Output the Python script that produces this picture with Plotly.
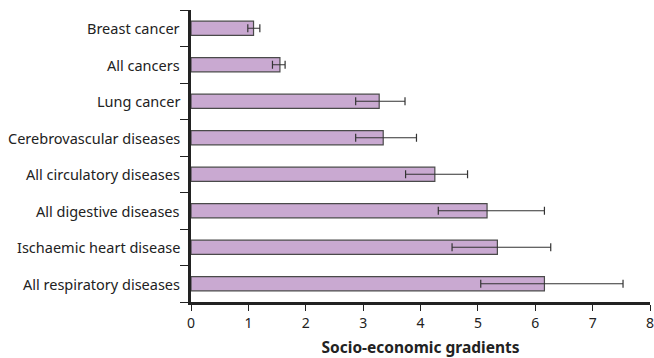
import plotly.graph_objects as go

categories = ["Breast cancer", "All cancers", "Lung cancer", "Cerebrovascular diseases",
              "All circulatory diseases", "All digestive diseases", "Ischaemic heart disease",
              "All respiratory diseases"]
values = [1.09, 1.55, 3.28, 3.35, 4.25, 5.16, 5.34, 6.16]
ci_low = [0.99, 1.42, 2.87, 2.87, 3.74, 4.31, 4.55, 5.05]
ci_high = [1.20, 1.64, 3.73, 3.93, 4.82, 6.16, 6.27, 7.53]
x_ticks = [0, 1, 2, 3, 4, 5, 6, 7, 8]

err_plus = [h - v for h, v in zip(ci_high, values)]
err_minus = [v - l for l, v in zip(ci_low, values)]
ypos = list(range(len(categories)))

fig = go.Figure()
fig.add_trace(go.Bar(
    x=values, y=ypos, orientation="h", width=0.39,
    marker=dict(color="#c9a9d1", line=dict(color="#4a4a4a", width=1.2)),
    error_x=dict(type="data", symmetric=False, array=err_plus, arrayminus=err_minus,
                 color="#333333", thickness=1.2, width=4),
))

font = "Noto Sans"
fig.update_layout(
    width=654, height=358,
    margin=dict(l=191, r=4, t=10, b=56, autoexpand=False),
    plot_bgcolor="white", paper_bgcolor="white",
    showlegend=False,
    font=dict(family=font, size=12, color="#222222"),
    xaxis=dict(range=[0, 8], tickvals=x_ticks, ticks="outside", ticklen=6, tickwidth=1.2,
               tickcolor="#222", showline=True, linecolor="#222", linewidth=2.5,
               showgrid=False, zeroline=False, tickfont=dict(size=14),
               ticklabeloverflow="allow", automargin=False,
               title=dict(text="<b>Socio-economic gradients</b>", font=dict(size=15.5), standoff=13)),
    yaxis=dict(range=[len(categories) - 0.5, -0.5], tickvals=[i - 0.5 for i in range(len(categories) + 1)],
               ticktext=[""] * (len(categories) + 1),
               ticks="outside", ticklen=8, tickwidth=1.2, tickcolor="#222",
               showline=True, linecolor="#222", linewidth=2.5, showgrid=False, zeroline=False),
)
for i, c in enumerate(categories):
    fig.add_annotation(x=0, y=i, xref="paper", yref="y", text=c, showarrow=False,
                       xanchor="right", xshift=-9, font=dict(family=font, size=14.5, color="#222"))

fig.write_html("out.html")
